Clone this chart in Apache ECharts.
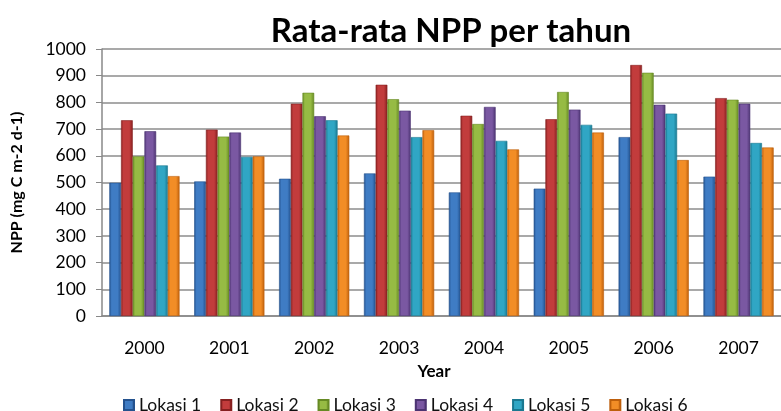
<!DOCTYPE html>
<html>
<head>
<meta charset="utf-8">
<script src="https://cdn.jsdelivr.net/npm/echarts@6/dist/echarts.min.js"></script>
<style>
  html, body { margin: 0; padding: 0; background: #fff; }
  #chart { width: 781px; height: 411px; }
</style>
</head>
<body>
<div id="chart"></div>
<script>
// tahun (sumbu x)
var years = ['2000', '2001', '2002', '2003', '2004', '2005', '2006', '2007'];
// nilai NPP tiap lokasi
var lokasi1 = [499, 504, 514, 534, 463, 477, 670, 522];
var lokasi2 = [733, 698, 795, 866, 750, 737, 940, 816];
var lokasi3 = [598, 672, 836, 812, 719, 839, 911, 810];
var lokasi4 = [692, 687, 748, 769, 783, 773, 791, 795];
var lokasi5 = [564, 596, 733, 670, 656, 716, 758, 648];
var lokasi6 = [524, 598, 676, 696, 624, 687, 584, 631];
var seriesNames = ['Lokasi 1', 'Lokasi 2', 'Lokasi 3', 'Lokasi 4', 'Lokasi 5', 'Lokasi 6'];
var yTicks = [0, 100, 200, 300, 400, 500, 600, 700, 800, 900, 1000];

var font = 'Lato, "Open Sans", sans-serif';
// warna batang: [terang, gelap]
var colors = [
    ['#3f7cc4', '#24528e'],
    ['#c23c3c', '#862020'],
    ['#96bb44', '#668a24'],
    ['#7a58a2', '#4c3472'],
    ['#30a6c4', '#1a7890'],
    ['#f28d26', '#bd5f0c']
];

function grad(c) {
    return new echarts.graphic.LinearGradient(0, 0, 1, 0, [
        { offset: 0, color: c[1] },
        { offset: 0.2, color: c[0] },
        { offset: 0.7, color: c[0] },
        { offset: 1, color: c[1] }
    ]);
}

var data = [lokasi1, lokasi2, lokasi3, lokasi4, lokasi5, lokasi6];
var series = data.map(function (d, i) {
    return {
        name: seriesNames[i],
        type: 'bar',
        data: d,
        barWidth: 11.7,
        barGap: '0%',
        itemStyle: { color: grad(colors[i]), borderColor: colors[i][1], borderWidth: 0.6 }
    };
});

var chart = echarts.init(document.getElementById('chart'));
chart.setOption({
    animation: false,
    color: colors.map(function (c) { return c[0]; }),
    title: {
        text: 'Rata-rata NPP per tahun',
        left: 446,
        textAlign: 'center',
        top: 10,
        textStyle: { fontFamily: font, fontSize: 33, fontWeight: 'bold', color: '#000' }
    },
    legend: {
        top: 391,
        left: 118,
        itemWidth: 10,
        itemHeight: 10,
        itemGap: 19,
        icon: 'rect',
        textStyle: { fontFamily: font, fontSize: 17.5, color: '#111' },
        data: seriesNames
    },
    grid: { left: 102, right: -9, top: 49, bottom: 95 },
    xAxis: {
        type: 'category',
        data: years,
        name: 'Year',
        nameLocation: 'middle',
        nameGap: 47,
        nameTextStyle: { fontFamily: font, fontSize: 17, fontWeight: 'bold', color: '#000', padding: [0, 0, 0, -15] },
        axisLine: { lineStyle: { color: '#888', width: 1.5 } },
        axisTick: { show: false },
        axisLabel: { fontFamily: font, fontSize: 17.5, color: '#000', margin: 23 }
    },
    yAxis: {
        type: 'value',
        min: yTicks[0],
        max: yTicks[yTicks.length - 1],
        interval: 100,
        name: 'NPP (mg C m-2 d-1)',
        nameLocation: 'middle',
        nameGap: 77,
        nameTextStyle: { fontFamily: font, fontSize: 16, fontWeight: 'bold', color: '#000' },
        axisLine: { show: true, lineStyle: { color: '#888', width: 1.5 } },
        axisTick: { show: true, length: 6, lineStyle: { color: '#888' } },
        axisLabel: { fontFamily: font, fontSize: 17.5, color: '#000', margin: 16, formatter: function (v) { return String(v); } },
        splitLine: { lineStyle: { color: '#8c8c8c', width: 1.5 } }
    },
    series: series
});
</script>
</body>
</html>
